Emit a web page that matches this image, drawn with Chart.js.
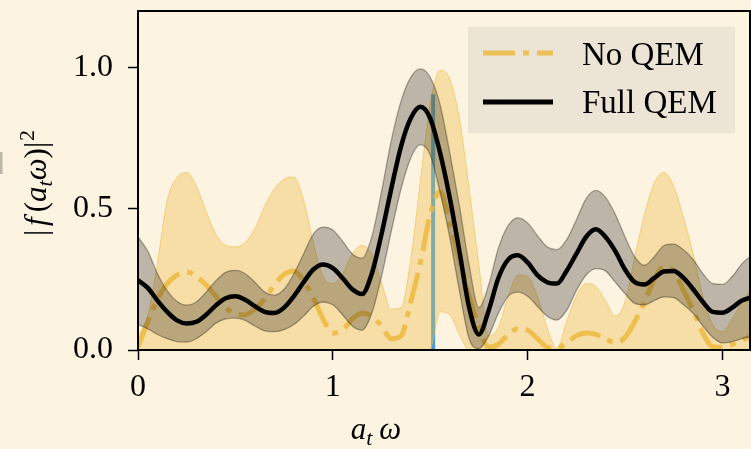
<!DOCTYPE html>
<html><head><meta charset="utf-8">
<script src="https://cdn.jsdelivr.net/npm/chart.js@4.4.1/dist/chart.umd.min.js"></script>
<style>html,body{margin:0;padding:0;background:#fcf3e0;}canvas{display:block;}</style>
</head><body>
<canvas id="c" width="751" height="449"></canvas>
<script>
// x positions (a_t * omega) where the curves were read
const omega = [0.00,0.05,0.10,0.15,0.20,0.25,0.30,0.35,0.40,0.45,0.50,0.55,0.60,0.65,0.70,0.75,0.80,0.85,0.90,0.95,
  1.00,1.05,1.10,1.15,1.20,1.25,1.30,1.35,1.40,1.45,1.50,1.55,1.60,1.65,1.70,1.75,1.80,1.85,1.90,1.95,
  2.00,2.05,2.10,2.15,2.20,2.25,2.30,2.35,2.40,2.45,2.50,2.55,2.60,2.65,2.70,2.75,2.80,2.85,2.90,2.95,
  3.00,3.05,3.10,3.1416];

// Full QEM: mean and band
const fullMean = [0.247,0.22,0.175,0.135,0.105,0.094,0.10,0.125,0.158,0.183,0.19,0.178,0.155,0.135,0.131,0.15,0.19,0.24,0.285,0.303,
  0.29,0.255,0.215,0.198,0.27,0.41,0.57,0.72,0.82,0.861,0.82,0.70,0.54,0.35,0.15,0.055,0.14,0.255,0.32,0.335,
  0.31,0.265,0.24,0.235,0.28,0.34,0.40,0.427,0.40,0.35,0.285,0.24,0.232,0.255,0.278,0.28,0.255,0.215,0.17,0.135,
  0.132,0.15,0.175,0.185];
const fullUpper = [0.40,0.35,0.27,0.21,0.172,0.159,0.17,0.205,0.245,0.275,0.282,0.27,0.24,0.205,0.194,0.215,0.27,0.34,0.41,0.435,
  0.425,0.385,0.34,0.325,0.40,0.56,0.74,0.88,0.965,0.995,0.965,0.87,0.70,0.51,0.30,0.15,0.23,0.36,0.44,0.468,
  0.45,0.405,0.365,0.355,0.39,0.46,0.535,0.565,0.54,0.48,0.40,0.33,0.30,0.33,0.37,0.375,0.355,0.32,0.27,0.235,
  0.232,0.26,0.305,0.33];
const fullLower = [0.09,0.075,0.055,0.04,0.03,0.028,0.04,0.065,0.095,0.11,0.113,0.105,0.085,0.068,0.065,0.072,0.09,0.12,0.155,0.17,
  0.16,0.125,0.085,0.07,0.13,0.26,0.42,0.57,0.68,0.727,0.69,0.56,0.40,0.21,0.04,0.005,0.05,0.13,0.19,0.205,
  0.19,0.155,0.12,0.106,0.14,0.21,0.265,0.288,0.28,0.24,0.20,0.165,0.16,0.175,0.188,0.185,0.16,0.13,0.085,0.045,
  0.025,0.03,0.04,0.047];

// No QEM: mean and band
const noMean = [0.01,0.10,0.18,0.235,0.265,0.276,0.26,0.23,0.19,0.15,0.128,0.125,0.145,0.18,0.23,0.268,0.28,0.245,0.185,0.11,
  0.06,0.07,0.11,0.13,0.12,0.085,0.04,0.05,0.17,0.31,0.48,0.56,0.45,0.32,0.19,0.08,0.01,0.02,0.055,0.075,
  0.07,0.04,0.01,0.005,0.025,0.05,0.06,0.055,0.04,0.025,0.045,0.10,0.17,0.25,0.295,0.28,0.212,0.14,0.06,0.012,
  0.01,0.02,0.035,0.047];
const noUpper = [0.05,0.12,0.31,0.53,0.61,0.628,0.58,0.49,0.41,0.37,0.365,0.38,0.43,0.51,0.57,0.605,0.612,0.53,0.38,0.26,
  0.235,0.27,0.34,0.37,0.34,0.24,0.145,0.15,0.32,0.60,0.87,0.99,0.96,0.82,0.57,0.30,0.05,0.08,0.19,0.265,
  0.26,0.19,0.08,0.005,0.10,0.19,0.235,0.225,0.175,0.12,0.17,0.33,0.48,0.59,0.628,0.58,0.47,0.34,0.19,0.09,
  0.065,0.11,0.17,0.21];
const noLower = [0,0,0,0,0,0,0,0,0,0,0,0,0,0,0,0,0,0,0,0,
  0,0,0,0,0,0,0,0,0,0,0.005,0.135,0.125,0.055,0,0,0,0,0,0,
  0,0,0,0,0,0,0,0,0,0,0,0,0,0,0,0,0,0,0,0,
  0,0,0,0];

// reference frequency marker
const markerX = [1.515, 1.515];
const markerY = [0, 0.905];

const xTicks = [0, 1, 2, 3];
const yTicks = [0, 0.5, 1.0];
const seriesNames = ['No QEM', 'Full QEM'];

const pts = (xs, ys) => xs.map((x, i) => ({x: x, y: ys[i]}));
const FONT = "'Liberation Serif', 'Times New Roman', serif";
const YEL = 'rgba(236,186,64,0.85)';

const bgPlugin = { id: 'bg', beforeDraw(chart) {
  const c = chart.ctx; c.save(); c.fillStyle = '#fcf3e0'; c.fillRect(0, 0, chart.width, chart.height);
  // sliver of a neighbouring panel at the left edge
  c.fillStyle = '#bdb7aa'; c.fillRect(0, 152, 2.5, 22);
  c.restore();
}};

const framePlugin = { id: 'frame', afterDatasetsDraw(chart) {
  const c = chart.ctx, a = chart.chartArea;
  c.save(); c.strokeStyle = '#000'; c.lineWidth = 2;
  c.strokeRect(a.left, a.top, a.right - a.left, a.bottom - a.top);
  c.restore();
}};

const legendPlugin = { id: 'leg', afterDraw(chart) {
  const c = chart.ctx;
  c.save();
  c.fillStyle = '#ece5d5';
  c.fillRect(468, 27, 267, 106);
  c.strokeStyle = YEL; c.lineWidth = 5; c.setLineDash([32, 8, 6, 8]);
  c.beginPath(); c.moveTo(483, 53); c.lineTo(553, 53); c.stroke();
  c.setLineDash([]);
  c.strokeStyle = '#000'; c.lineWidth = 5;
  c.beginPath(); c.moveTo(483, 102); c.lineTo(553, 102); c.stroke();
  c.fillStyle = '#000'; c.font = '33px ' + FONT; c.textBaseline = 'alphabetic'; c.textAlign = 'left';
  c.fillText(seriesNames[0], 582, 65);
  c.fillText(seriesNames[1], 582, 113);
  c.restore();
}};

const titlePlugin = { id: 'titles', afterDraw(chart) {
  const c = chart.ctx;
  c.save(); c.fillStyle = '#000'; c.textBaseline = 'alphabetic'; c.textAlign = 'left';
  const big = 'italic 31px ' + FONT, small = 'italic 22px ' + FONT, up = '31px ' + FONT;
  c.font = big; const wa = c.measureText('a').width, ww = c.measureText('ω').width;
  c.font = small; const wt = c.measureText('t').width;
  const gap = 7;
  let x0 = 376 - (wa + wt + gap + ww) / 2; const by = 439;
  c.font = big; c.fillText('a', x0, by);
  c.font = small; c.fillText('t', x0 + wa, by + 6);
  c.font = big; c.fillText('ω', x0 + wa + wt + gap, by);
  c.restore();
  // y title: |f(a_t ω)|^2, rotated
  c.save(); c.fillStyle = '#000'; c.textBaseline = 'alphabetic'; c.textAlign = 'left';
  const parts = [
    ['|', up, 0, 4], ['f', big, 0, 5], ['(', up, 0, 0], ['a', big, 0, 0],
    ['t', small, 6, 0], ['ω', big, 0, 0], [')', up, 0, 0], ['|', up, 0, 1], ['2', '22px ' + FONT, -12, 0]
  ];
  let total = 0;
  parts.forEach(p => { c.font = p[1]; p.push(c.measureText(p[0]).width); total += p[4] + p[3]; });
  c.setTransform(0, -1, 1, 0, 46, 183 + total / 2);
  let xx = 0;
  parts.forEach(p => { c.font = p[1]; c.fillText(p[0], xx, p[2]); xx += p[4] + p[3]; });
  c.restore();
}};

const bandStyle = (col, w) => ({ borderColor: col, borderWidth: w, pointRadius: 0 });

new Chart(document.getElementById('c'), {
  type: 'line',
  data: {
    datasets: [
      { label: 'marker', data: pts(markerX, markerY), borderColor: '#3f9ee2', borderWidth: 4, pointRadius: 0, tension: 0, cubicInterpolationMode: 'default', fill: false, order: 7 },
      Object.assign({ label: 'noLower', data: pts(omega, noLower), fill: false, order: 6 }, bandStyle('rgba(236,186,64,0.55)', 1)),
      Object.assign({ label: 'noUpper', data: pts(omega, noUpper), fill: 1, backgroundColor: 'rgba(240,190,70,0.38)', order: 5 }, bandStyle('rgba(236,186,64,0.55)', 1)),
      { label: seriesNames[0], data: pts(omega, noMean), borderColor: YEL, borderWidth: 5, borderDash: [32, 8, 6, 8], pointRadius: 0, fill: false, order: 4 },
      Object.assign({ label: 'fullLower', data: pts(omega, fullLower), fill: false, order: 3 }, bandStyle('rgba(50,45,35,0.4)', 1.3)),
      Object.assign({ label: 'fullUpper', data: pts(omega, fullUpper), fill: 4, backgroundColor: 'rgba(0,0,0,0.25)', order: 2 }, bandStyle('rgba(50,45,35,0.4)', 1.3)),
      { label: seriesNames[1], data: pts(omega, fullMean), borderColor: '#000', borderWidth: 4.5, pointRadius: 0, fill: false, order: 1 }
    ]
  },
  options: {
    responsive: false, animation: false, devicePixelRatio: 1,
    layout: { padding: { top: 11, right: 1, left: 0, bottom: 0 } },
    elements: { point: { radius: 0 }, line: { cubicInterpolationMode: 'monotone' } },
    plugins: { legend: { display: false }, tooltip: { enabled: false } },
    scales: {
      x: {
        type: 'linear', min: 0, max: Math.PI,
        afterBuildTicks(s) { s.ticks = xTicks.map(v => ({ value: v })); },
        afterFit(s) { s.height = 99; s.paddingLeft = 0; s.paddingRight = 0; },
        grid: { drawOnChartArea: false, drawTicks: true, tickLength: 10, tickColor: '#000', tickWidth: 1.5 },
        border: { display: false },
        ticks: { padding: 8, color: '#000', font: { family: FONT, size: 32 }, maxRotation: 0, autoSkip: false, callback: v => String(v) }
      },
      y: {
        type: 'linear', min: 0, max: 1.2,
        afterBuildTicks(s) { s.ticks = yTicks.map(v => ({ value: v })); },
        afterFit(s) { s.width = 138; s.paddingTop = 0; s.paddingBottom = 0; },
        grid: { drawOnChartArea: false, drawTicks: true, tickLength: 10, tickColor: '#000', tickWidth: 1.5 },
        border: { display: false },
        ticks: { padding: 15, color: '#000', font: { family: FONT, size: 32 }, autoSkip: false, callback: v => Number(v).toFixed(1) }
      }
    }
  },
  plugins: [bgPlugin, framePlugin, legendPlugin, titlePlugin]
});
</script>
</body></html>
